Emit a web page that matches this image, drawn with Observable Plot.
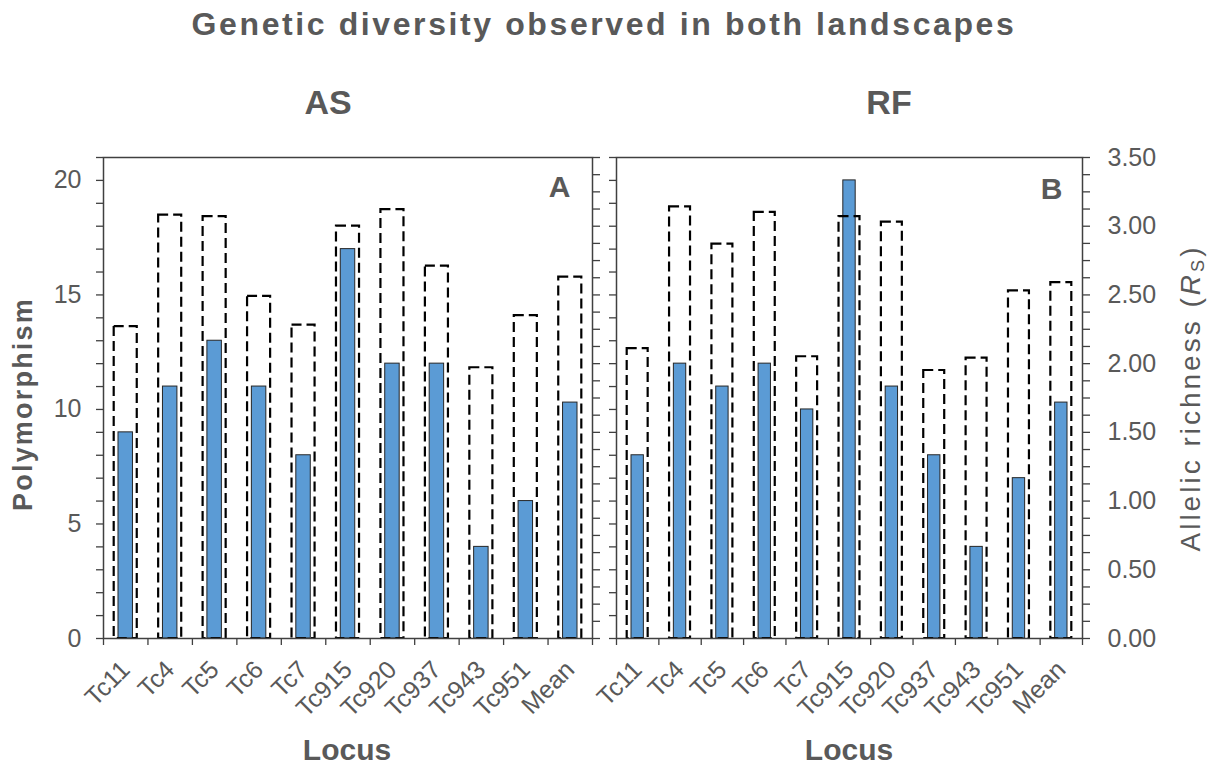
<!DOCTYPE html>
<html>
<head>
<meta charset="utf-8">
<script src="https://cdn.jsdelivr.net/npm/d3@7"></script>
<script src="https://cdn.jsdelivr.net/npm/@observablehq/plot@0.6"></script>
<style>
  body { margin: 0; background: #fff; }
  #chart {
    position: relative; width: 1217px; height: 767px; overflow: hidden;
    font-family: "Liberation Sans", Arial, sans-serif; color: #595959;
  }
  #chart svg { position: absolute; top: 0; }
  .lbl { position: absolute; white-space: nowrap; line-height: 1; font-weight: bold; }
</style>
</head>
<body>
<div id="chart"></div>
<script>
// Loci (x categories)
const loci = ["Tc11", "Tc4", "Tc5", "Tc6", "Tc7", "Tc915", "Tc920", "Tc937", "Tc943", "Tc951", "Mean"];

// AS landscape
const asPolymorphism = [9, 11, 13, 11, 8, 17, 12, 12, 4, 6, 10.3];
const asRichness     = [2.27, 3.08, 3.07, 2.49, 2.28, 3.00, 3.12, 2.71, 1.97, 2.35, 2.63];

// RF landscape
const rfPolymorphism = [8, 12, 11, 12, 10, 20, 11, 8, 4, 7, 10.3];
const rfRichness     = [2.11, 3.14, 2.87, 3.10, 2.05, 3.07, 3.03, 1.95, 2.04, 2.53, 2.59];

// Axis extents and ticks
const polyMax = 21;
const richMax = 3.5;
const polyTicks = d3.range(0, polyMax + 1, 1);
const richTicks = d3.range(0, richMax + 0.0001, 0.125);
const k = polyMax / richMax; // richness values share the polymorphism scale

const ink = "#595959";
const axisInk = "#404040";
const font = "'Liberation Sans', Arial, sans-serif";

function panel({poly, rich, tag, side, left, width, marginLeft, marginRight, tagDx, tagDy}) {
  const rows = loci.map((locus, i) => ({locus, i, poly: poly[i], rich: rich[i]}));
  const svg = Plot.plot({
    width,
    height: 767,
    marginTop: 157,
    marginBottom: 129,
    marginLeft,
    marginRight,
    x: {domain: [0, loci.length]},
    y: {domain: [0, polyMax]},
    style: {fontFamily: font, background: "transparent", overflow: "visible"},
    marks: [
      // polymorphism (left axis)
      Plot.rect(rows, {
        x1: "i", x2: d => d.i + 1, y1: 0, y2: "poly",
        insetLeft: 15, insetRight: 15,
        fill: "#5b9bd5", stroke: "#262626", strokeWidth: 1
      }),
      // allelic richness (right axis), dashed outline
      Plot.rect(rows, {
        x1: "i", x2: d => d.i + 1, y1: 0, y2: d => d.rich * k,
        insetLeft: 10.7, insetRight: 10.7,
        fill: "none", stroke: "#000", strokeWidth: 2.2, strokeDasharray: "10,5"
      }),
      Plot.frame({stroke: axisInk, strokeWidth: 1.5}),
      // category boundary ticks
      Plot.axisX(d3.range(loci.length + 1), {
        tickSize: 7, tickFormat: () => "", stroke: axisInk, strokeWidth: 1.3, label: null
      }),
      // rotated locus names
      Plot.axisX(loci.map((_, i) => i + 0.5), {
        tickSize: 0, tickPadding: 27, tickRotate: -45,
        tickFormat: t => loci[Math.floor(t)],
        fontSize: 25, fill: ink, color: ink, label: null
      }),
      Plot.axisY(polyTicks, {
        anchor: "left", tickSize: 7, tickPadding: 15,
        tickFormat: side === "left" ? (d => d % 5 === 0 ? d : "") : () => "",
        fontSize: 25, stroke: axisInk, fill: ink, strokeWidth: 1.3, label: null
      }),
      Plot.axisY(richTicks.map(t => t * k), {
        anchor: "right", tickSize: 7, tickPadding: 18,
        tickFormat: side === "right" ? (d => Number.isInteger(d / 3) ? (d / k).toFixed(2) : "") : () => "",
        fontSize: 25, stroke: axisInk, fill: ink, strokeWidth: 1.3, label: null
      }),
      Plot.text([tag], {
        frameAnchor: "top-right", dx: tagDx, dy: tagDy,
        fontSize: 30, fontWeight: "bold", fill: ink
      })
    ]
  });
  svg.style.left = left + "px";
  return svg;
}

const chart = document.getElementById("chart");

chart.appendChild(panel({
  poly: asPolymorphism, rich: asRichness, tag: "A", side: "left",
  left: 0, width: 604, marginLeft: 103, marginRight: 12, tagDx: -22, tagDy: 18
}));
chart.appendChild(panel({
  poly: rfPolymorphism, rich: rfRichness, tag: "B", side: "right",
  left: 604, width: 613, marginLeft: 12, marginRight: 135, tagDx: -20, tagDy: 20
}));

// Text placed around the two panels
function label(html, css) {
  const el = document.createElement("div");
  el.className = "lbl";
  el.innerHTML = html;
  Object.assign(el.style, css);
  chart.appendChild(el);
  return el;
}

label("Genetic diversity observed in both landscapes", {
  left: "604px", top: "8px", fontSize: "32px", letterSpacing: "2.6px", transform: "translateX(-50%)"
});
label("AS", {left: "328px", top: "85px", fontSize: "34px", transform: "translateX(-50%)"});
label("RF", {left: "889px", top: "85px", fontSize: "34px", transform: "translateX(-50%)"});
label("Locus", {left: "347px", top: "735px", fontSize: "30px", transform: "translateX(-50%)"});
label("Locus", {left: "849px", top: "735px", fontSize: "30px", transform: "translateX(-50%)"});
label("Polymorphism", {
  left: "23px", top: "404px", fontSize: "27px", letterSpacing: "2.2px",
  transform: "translate(-50%, -50%) rotate(-90deg)"
});
label("Allelic richness (<i>R</i><sub style=\"font-size:0.65em;vertical-align:-0.25em\">S</sub>)", {
  left: "1192px", top: "398px", fontSize: "28px", fontWeight: "normal", letterSpacing: "3px",
  transform: "translate(-50%, -50%) rotate(-90deg)"
});
</script>
</body>
</html>
